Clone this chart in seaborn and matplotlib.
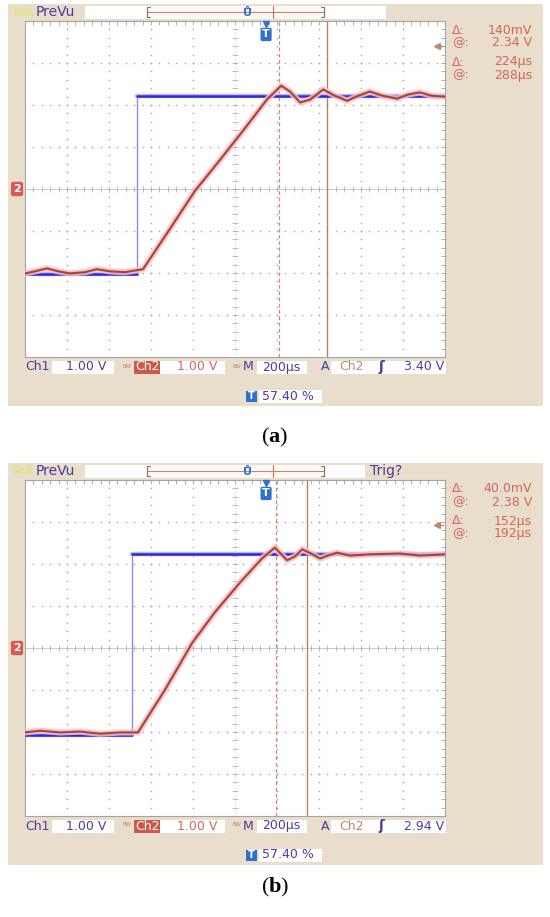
import numpy as np
import pandas as pd
import matplotlib
matplotlib.use("Agg")
import matplotlib.pyplot as plt
from matplotlib.patches import Rectangle
import seaborn as sns

# screen coordinates in divisions: x 0..10 (200 us/div), y -4..4 (1.00 V/div)
# --- panel (a) ---
ch1_a_x = [0.0, 2.67, 2.67, 10.0]
ch1_a_y = [-2.03, -2.03, 2.22, 2.22]
ch2_a_x = [0.0, 0.24, 0.52, 0.79, 1.07, 1.43, 1.71, 2.02, 2.38, 2.81, 3.45, 4.05, 4.64,
           5.24, 5.76, 6.10, 6.31, 6.55, 6.79, 7.10, 7.38, 7.67, 7.93, 8.21, 8.52, 8.86,
           9.12, 9.40, 9.69, 10.0]
ch2_a_y = [-2.01, -1.96, -1.89, -1.96, -2.01, -1.98, -1.91, -1.96, -1.98, -1.91, -0.95,
           -0.04, 0.69, 1.45, 2.13, 2.46, 2.32, 2.06, 2.13, 2.37, 2.22, 2.10, 2.22, 2.32,
           2.22, 2.15, 2.25, 2.30, 2.22, 2.20]
cursors_a = [6.05, 7.19]
trig_a = 3.40
readout_a = ["140mV", "2.34 V", "224µs", "288µs"]

# --- panel (b) ---
ch1_b_x = [0.0, 2.55, 2.55, 10.0]
ch1_b_y = [-2.06, -2.06, 2.25, 2.25]
ch2_b_x = [0.0, 0.36, 0.83, 1.31, 1.79, 2.26, 2.69, 3.33, 3.98, 4.52, 5.12, 5.64, 5.95,
           6.24, 6.43, 6.60, 6.81, 7.02, 7.21, 7.43, 7.74, 8.21, 8.93, 9.40, 10.0]
ch2_b_y = [-2.01, -1.97, -2.01, -1.99, -2.04, -2.01, -2.01, -1.00, 0.12, 0.85, 1.56, 2.13,
           2.39, 2.09, 2.18, 2.35, 2.25, 2.13, 2.20, 2.27, 2.20, 2.23, 2.25, 2.20, 2.23]
cursors_b = [5.98, 6.72]
trig_b = 2.94
readout_b = ["40.0mV", "2.38 V", "152µs", "192µs"]

BEIGE = "#e9ddcc"
PURPLE = "#4a3d9c"
SALMON = "#d2675a"
TAN = "#b98a6e"
GRIDC = "#a4a4a4"

sns.set_style("white")
plt.rcParams["font.family"] = ["DejaVu Sans"]
plt.rcParams["mathtext.fontset"] = "custom"
plt.rcParams["mathtext.bf"] = "Liberation Serif:bold"
plt.rcParams["mathtext.rm"] = "Liberation Serif"

W, H = 550, 917
fig = plt.figure(figsize=(5.5, 9.17), dpi=100)
bg = fig.add_axes([0, 0, 1, 1])
bg.set_xlim(0, W)
bg.set_ylim(H, 0)
bg.axis("off")


def box(x0, x1, yc, h=13, fc="white"):
    bg.add_patch(Rectangle((x0, yc - h / 2), x1 - x0, h, fc=fc, ec="none", zorder=1))


def draw_panel(gt, ch1_x, ch1_y, ch2_x, ch2_y, cursors, trig, readout, label, trig_word, cap_y):
    gh = 336
    gb = gt + gh
    # beige frame
    bg.add_patch(Rectangle((8, gt - 17), 535, 402, fc=BEIGE, ec="none", zorder=0))

    # top status bar
    yb = gt - 9
    bg.text(11, yb, "Tek", color="#dfe58a", fontsize=9, fontweight="bold", va="center", zorder=2)
    bg.text(36, yb, "PreVu", color=PURPLE, fontsize=10, va="center", zorder=2)
    box(85, 145, yb)
    box(145, 326, yb, fc="#fdf8f5")
    bg.plot([147, 324], [yb, yb], color=TAN, lw=0.8, zorder=2)
    bg.plot([150, 147, 147, 150], [yb - 5, yb - 5, yb + 5, yb + 5], color="#777777", lw=0.8, zorder=2)
    bg.plot([321, 324, 324, 321], [yb - 5, yb - 5, yb + 5, yb + 5], color="#777777", lw=0.8, zorder=2)
    bg.plot([273, 273], [yb - 6, yb + 6], color="#d06a5a", lw=0.8, zorder=2)
    bg.text(248, yb + 1, "Ů", color="#3a6fc8", fontsize=8, fontweight="bold",
            ha="center", va="center", zorder=3)
    if trig_word:
        box(326, 365, yb)
        bg.text(370, yb, trig_word, color=PURPLE, fontsize=10, va="center", zorder=2)
    else:
        box(326, 386, yb)

    # right side cursor readouts
    ys = [gt + 9, gt + 22, gt + 41, gt + 54]
    for yy, sym, val in zip(ys, ["Δ:", "@:", "Δ:", "@:"], readout):
        bg.text(452, yy, sym, color=SALMON, fontsize=9, va="center", zorder=2)
        bg.text(532, yy, val, color=SALMON, fontsize=9, va="center", ha="right", zorder=2)

    # channel 2 ground marker
    bg.text(17, gt + gh / 2, "2", color="white", fontsize=8, fontweight="bold",
            ha="center", va="center", zorder=3,
            bbox=dict(boxstyle="round,pad=0.2", fc="#d85a55", ec="none"))

    # bottom readout row
    yr = gb + 10
    bg.text(25, yr, "Ch1", color=PURPLE, fontsize=9, va="center", zorder=2)
    box(52, 114, yr)
    bg.text(106, yr, "1.00 V", color=PURPLE, fontsize=9, va="center", ha="right", zorder=2)
    bg.text(127, yr - 1, "BW", color=TAN, fontsize=4, va="center", ha="center", zorder=2)
    box(134, 160, yr, fc="#cc5a48")
    bg.text(147, yr, "Ch2", color="white", fontsize=9, va="center", ha="center", zorder=2)
    box(160, 225, yr)
    bg.text(217, yr, "1.00 V", color=SALMON, fontsize=9, va="center", ha="right", zorder=2)
    bg.text(237, yr - 1, "BW", color=TAN, fontsize=4, va="center", ha="center", zorder=2)
    bg.text(243, yr, "M", color=PURPLE, fontsize=9, va="center", zorder=2)
    box(257, 307, yr)
    bg.text(262, yr, "200µs", color=PURPLE, fontsize=9, va="center", zorder=2)
    bg.text(321, yr, "A", color=PURPLE, fontsize=9, va="center", zorder=2)
    box(331, 446, yr)
    bg.text(339, yr, "Ch2", color=TAN, fontsize=9, va="center", zorder=2)
    bg.text(378, yr, "ʃ", color=PURPLE, fontsize=10, fontweight="bold", va="center", zorder=2)
    bg.text(444, yr, f"{trig:.2f} V", color=PURPLE, fontsize=9, va="center", ha="right", zorder=2)

    yt = gb + 39
    box(246, 257, yt, h=11, fc="#2f6fd0")
    bg.text(251.5, yt, "T", color="white", fontsize=7, fontweight="bold",
            ha="center", va="center", zorder=2)
    box(259, 322, yt)
    bg.text(262, yt, "57.40 %", color=PURPLE, fontsize=9, va="center", zorder=2)

    # caption
    bg.text(275, cap_y, r"($\mathbf{" + label + r"}$)", fontsize=16, ha="center",
            va="center", color="black", family="Liberation Serif")

    # graticule axes
    ax = fig.add_axes([25 / W, 1 - gb / H, 420 / W, gh / H])
    ax.set_xlim(0, 10)
    ax.set_ylim(-4, 4)
    ax.set_facecolor("white")
    ax.set_xticks(np.arange(0, 10.01, 0.2))
    ax.set_yticks(np.arange(-4, 4.01, 0.2))
    ax.tick_params(direction="in", length=3, width=0.6, color=GRIDC, top=True, right=True,
                   labelbottom=False, labelleft=False)
    for s in ax.spines.values():
        s.set_color(GRIDC)
        s.set_linewidth(0.8)

    fine = np.arange(-4, 4.01, 0.2)
    fine_x = np.arange(0, 10.01, 0.2)
    for k in range(1, 10):
        if k != 5:
            ax.plot(np.full_like(fine, k), fine, ls="none", marker="s", ms=1.0, mew=0,
                    color=GRIDC)
    for k in range(-3, 4):
        if k != 0:
            ax.plot(fine_x, np.full_like(fine_x, k), ls="none", marker="s", ms=1.0, mew=0,
                    color=GRIDC)
    ax.axhline(0, color="#c0c0c0", lw=0.6)
    ax.axvline(5, color="#c4c4c4", lw=0.6, ls=(0, (1, 2)))
    ax.plot(fine_x, np.zeros_like(fine_x), ls="none", marker="|", ms=4, mew=0.5, color=GRIDC)
    ax.plot(np.full_like(fine, 5), fine, ls="none", marker="_", ms=4, mew=0.5, color=GRIDC)

    # cursors
    ax.axvline(cursors[0], color="#cc8a7a", lw=0.9, ls=(0, (3, 2)), zorder=3)
    ax.axvline(cursors[1], color="#b8806a", lw=1.0, zorder=3)

    # traces
    d1 = pd.DataFrame({"t": ch1_x, "v": ch1_y})
    d2 = pd.DataFrame({"t": ch2_x, "v": ch2_y})
    sns.lineplot(data=d1, x="t", y="v", ax=ax, color="#8c8cf0", lw=1.0,
                 sort=False, estimator=None, zorder=4)
    for seg in (d1.iloc[:2], d1.iloc[2:]):
        sns.lineplot(data=seg, x="t", y="v", ax=ax, color="#b9b9f7", lw=3.2,
                     sort=False, estimator=None, zorder=4)
        sns.lineplot(data=seg, x="t", y="v", ax=ax, color="#2b2bd8", lw=1.8,
                     sort=False, estimator=None, zorder=5)
    sns.lineplot(data=d2, x="t", y="v", ax=ax, color="#f7bccb", lw=4.5,
                 sort=False, estimator=None, zorder=6, alpha=0.85)
    sns.lineplot(data=d2, x="t", y="v", ax=ax, color="#a4462a", lw=1.5,
                 sort=False, estimator=None, zorder=7)

    # trigger level arrow and trigger position marker
    ax.plot([9.82], [trig], marker="<", ms=5, color=TAN, zorder=8)
    ax.plot([9.82, 9.95], [trig, trig], color=TAN, lw=1, zorder=8)
    ax.plot([5.74], [3.93], marker="v", ms=5, color="#2f6fd0", zorder=8, clip_on=False)
    ax.text(5.74, 3.68, "T", color="white", fontsize=8, fontweight="bold", ha="center",
            va="center", zorder=9,
            bbox=dict(boxstyle="round,pad=0.15", fc="#2f6fd0", ec="none"))
    ax.set_xlabel("")
    ax.set_ylabel("")
    return ax


draw_panel(21, ch1_a_x, ch1_a_y, ch2_a_x, ch2_a_y, cursors_a, trig_a, readout_a, "a", None, 437)
draw_panel(480, ch1_b_x, ch1_b_y, ch2_b_x, ch2_b_y, cursors_b, trig_b, readout_b, "b", "Trig?", 887)

fig.savefig("out.png", dpi=100)
